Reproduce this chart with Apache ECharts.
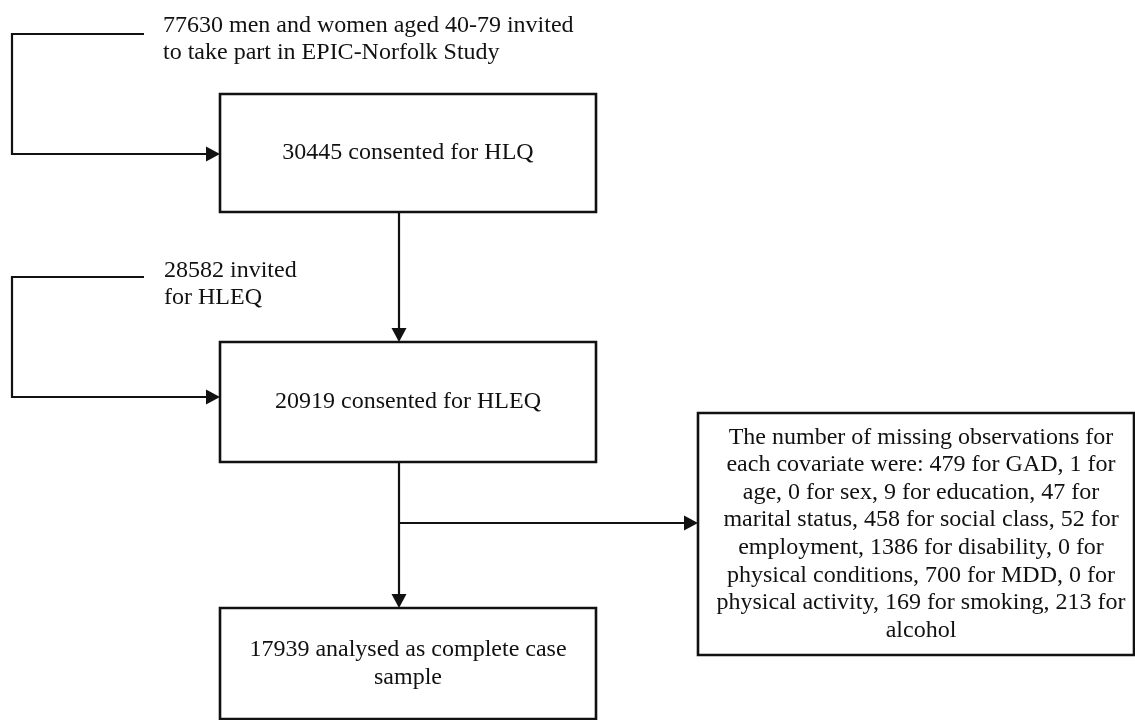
<!DOCTYPE html>
<html>
<head>
<meta charset="utf-8">
<script src="https://cdn.jsdelivr.net/npm/echarts@6/dist/echarts.min.js"></script>
<style>
html,body{margin:0;padding:0;background:#fff;}
#chart{width:1135px;height:720px;}
</style>
</head>
<body>
<div id="chart"></div>
<script>
// ---- content ----
const boxTexts = [
  "30445 consented for HLQ",
  "20919 consented for HLEQ",
  "The number of missing observations for\neach covariate were: 479 for GAD, 1 for\nage, 0 for sex, 9 for education, 47 for\nmarital status, 458 for social class, 52 for\nemployment, 1386 for disability, 0 for\nphysical conditions, 700 for MDD, 0 for\nphysical activity, 169 for smoking, 213 for\nalcohol",
  "17939 analysed as complete case\nsample"
];
const noteTexts = [
  "77630 men and women aged 40-79 invited\nto take part in EPIC-Norfolk Study",
  "28582 invited\nfor HLEQ"
];

// ---- layout (diagram coordinates: x 0..1135, y 0..720 downward) ----
const boxRects = [
  [220, 94, 596, 212],
  [220, 342, 596, 462],
  [698, 413, 1134, 655],
  [220, 608, 596, 719]
];
const boxTextDx = [0, 0, 5, 0];
const notePos = [
  [163, 39],
  [164, 284]
];
const connectors = [
  [[144, 34], [12, 34], [12, 154], [220, 154]],
  [[144, 277], [12, 277], [12, 397], [220, 397]],
  [[399, 212], [399, 342]],
  [[399, 462], [399, 608]],
  [[399, 523], [698, 523]]
];

const FONT = '"Liberation Serif", "Times New Roman", serif';
const FS = 24;
const LH = 27.6;

const chart = echarts.init(document.getElementById('chart'), null, {renderer: 'canvas'});

const option = {
  backgroundColor: '#ffffff',
  animation: false,
  grid: {left: 0, right: 0, top: 0, bottom: 0},
  xAxis: {type: 'value', min: 0, max: 1135, show: false},
  yAxis: {type: 'value', min: 0, max: 720, inverse: true, show: false},
  series: [
    {
      type: 'custom',
      coordinateSystem: 'cartesian2d',
      data: boxRects.map((r, i) => [r[0], r[1], r[2], r[3], i]),
      renderItem: function (params, api) {
        const p0 = api.coord([api.value(0), api.value(1)]);
        const p1 = api.coord([api.value(2), api.value(3)]);
        const idx = api.value(4);
        return {
          type: 'group',
          children: [
            {
              type: 'rect',
              shape: {x: p0[0], y: p0[1], width: p1[0] - p0[0], height: p1[1] - p0[1]},
              style: {fill: '#ffffff', stroke: '#111111', lineWidth: 2.6}
            },
            {
              type: 'text',
              style: {
                text: boxTexts[idx],
                x: (p0[0] + p1[0]) / 2 + boxTextDx[idx],
                y: (p0[1] + p1[1]) / 2,
                textAlign: 'center',
                textVerticalAlign: 'middle',
                fontSize: FS,
                fontFamily: FONT,
                lineHeight: LH,
                fill: '#111111'
              }
            }
          ]
        };
      }
    },
    {
      type: 'custom',
      coordinateSystem: 'cartesian2d',
      data: notePos.map((p, i) => [p[0], p[1], i]),
      renderItem: function (params, api) {
        const p = api.coord([api.value(0), api.value(1)]);
        return {
          type: 'text',
          style: {
            text: noteTexts[api.value(2)],
            x: p[0],
            y: p[1],
            textAlign: 'left',
            textVerticalAlign: 'middle',
            fontSize: FS,
            fontFamily: FONT,
            lineHeight: 27,
            fill: '#111111'
          }
        };
      }
    },
    {
      type: 'custom',
      coordinateSystem: 'cartesian2d',
      data: connectors.map((c, i) => [c[0][0], c[0][1], i]),
      renderItem: function (params, api) {
        const pts = connectors[api.value(2)].map(q => api.coord(q));
        const a = pts[pts.length - 2];
        const b = pts[pts.length - 1];
        const dx = b[0] - a[0], dy = b[1] - a[1];
        const len = Math.sqrt(dx * dx + dy * dy) || 1;
        const ux = dx / len, uy = dy / len;
        const L = 14, W = 7.5;
        const bx = b[0] - ux * L, by = b[1] - uy * L;
        const linePts = pts.slice(0, -1).concat([[bx, by]]);
        return {
          type: 'group',
          children: [
            {
              type: 'polyline',
              shape: {points: linePts},
              style: {stroke: '#111111', lineWidth: 2.2, fill: null}
            },
            {
              type: 'polygon',
              shape: {points: [[b[0], b[1]], [bx - uy * W, by + ux * W], [bx + uy * W, by - ux * W]]},
              style: {fill: '#111111', stroke: null}
            }
          ]
        };
      }
    }
  ]
};
chart.setOption(option);
</script>
</body>
</html>
